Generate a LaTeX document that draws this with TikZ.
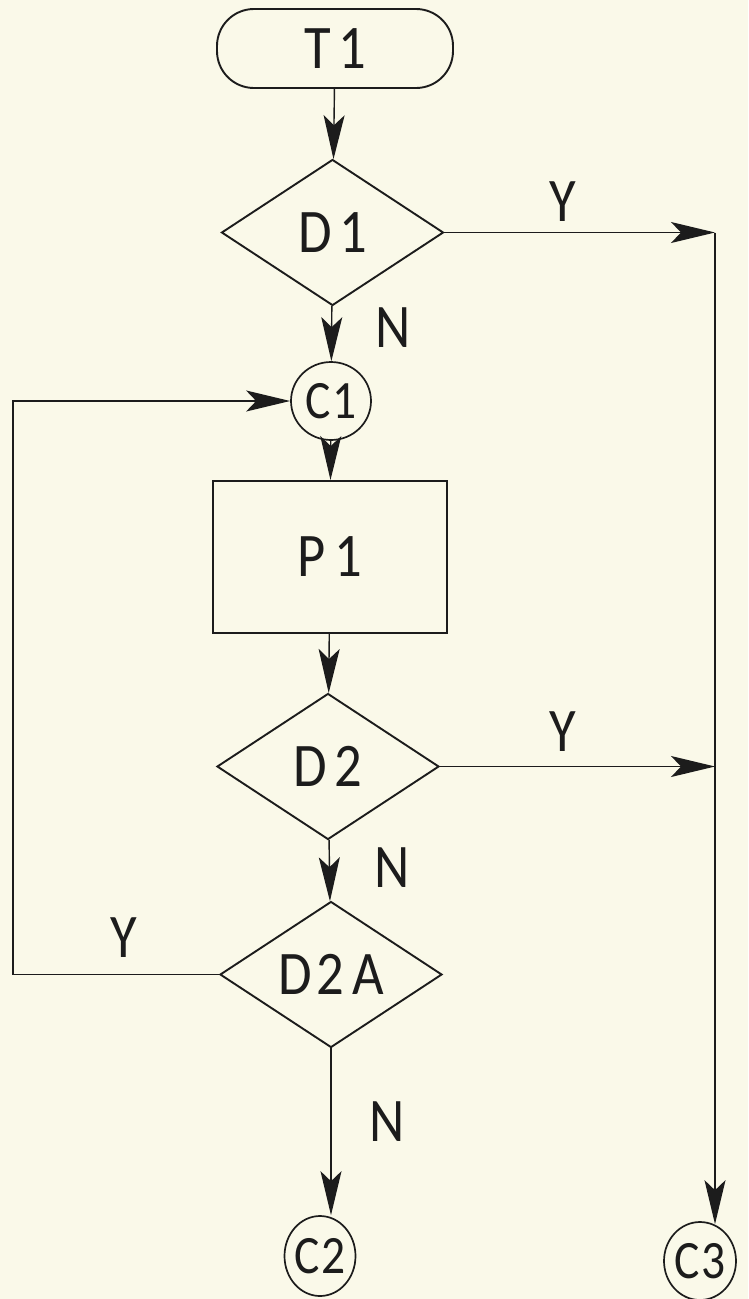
\documentclass[tikz,border=0pt]{standalone}
\usepackage{fontspec}
\setmainfont{Carlito}[FakeStretch=0.88,LetterSpace=12]
\usetikzlibrary{arrows.meta,shapes.geometric}
\definecolor{paper}{RGB}{250,249,233}
\definecolor{ink}{RGB}{28,28,28}
\begin{document}
\begin{tikzpicture}[x=1pt,y=1pt,
  every node/.style={font=\fontsize{62}{64}\selectfont, text=ink, inner sep=0pt},
  shp/.style={draw=ink, line width=1.9pt},
  term/.style={shp, rectangle, rounded corners=37pt, minimum width=236pt, minimum height=79pt},
  dec/.style={shp, diamond, minimum width=222pt, minimum height=146pt},
  proc/.style={shp, rectangle, minimum width=234pt, minimum height=152pt},
  conn/.style={shp, ellipse, line width=1.7pt, inner sep=-12pt, font=\fontsize{54}{56}\selectfont\addfontfeature{LetterSpace=2}},
  flow/.style={draw=ink, line width=1.4pt, -{Stealth[length=44pt,width=21pt,inset=10pt]}},
  lbl/.style={}]
\useasboundingbox (0,0) rectangle (748,-1299);
\fill[paper] (0,0) rectangle (748,-1299);

% shapes
\node[term] (T1) at (335,-48.5) {T1};
\node[dec] (D1) at (332.5,-232.5) {D1};
\node[conn, minimum width=80pt, minimum height=78pt] (C1) at (331,-401) {C1};
\node[proc] (P1) at (330,-557) {P\hspace{0.15em}1};
\node[dec] (D2) at (328,-766.5) {D2};
\node[dec] (D2A) at (331,-974.5) {D\hspace{0.08em}2A};
\node[conn, minimum width=71pt, minimum height=80pt] (C2) at (320,-1256) {C2};
\node[conn, minimum width=72pt, minimum height=78pt] (C3) at (700,-1261) {C3};

% helper coordinates for the side lines
\coordinate (R) at (715,0);
\coordinate (L) at (13,0);

% connectors
\draw[flow] (T1) -- (D1);
\draw[flow] (D1) -- (C1);
\draw[flow] (C1) -- (P1);
\draw[flow] (P1) -- (D2);
\draw[flow] (D2) -- (D2A);
\draw[flow] (D2A.south) -- (D2A.south |- C2.north);
\draw[flow] (D1.east) -- (D1.east -| R);
\draw[flow] (D1.east -| R) -- ([yshift=-3pt]R |- C3.north);
\draw[flow] (D2.east) -- (D2.east -| R);
\draw[flow] (D2A.west) -- (D2A.west -| L) -- (C1.west -| L) -- (C1.west);

% labels
\node[lbl] (yD1) at (563,-202) {Y};
\node[lbl] (nD1) at (393,-328) {N};
\node[lbl] (yD2) at (563,-732) {Y};
\node[lbl] (nD2) at (392,-868) {N};
\node[lbl] (yD2A) at (124,-938) {Y};
\node[lbl] (nD2A) at (387,-1122) {N};
\end{tikzpicture}
\end{document}
